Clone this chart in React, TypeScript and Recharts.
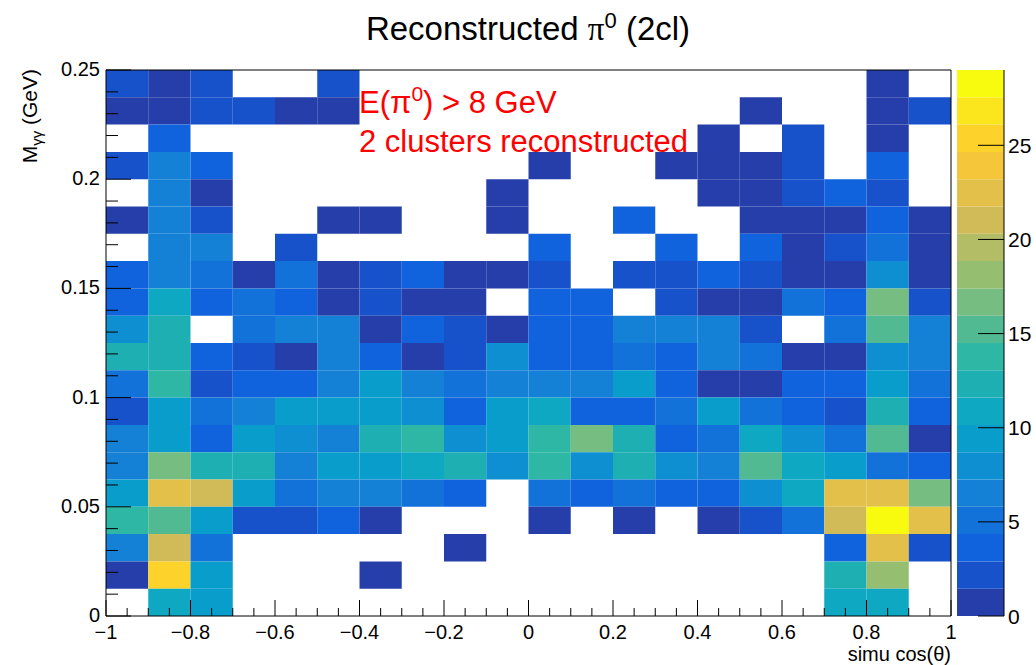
import React from "react";
import { ScatterChart, Scatter, XAxis, YAxis, ReferenceArea } from "recharts";

// lower edges of the bins
const xBinLow = [-1, -0.9, -0.8, -0.7, -0.6, -0.5, -0.4, -0.3, -0.2, -0.1, 0, 0.1, 0.2, 0.3, 0.4, 0.5, 0.6, 0.7, 0.8, 0.9];
// rows listed from the top of the plot down
const yBinLow = [0.2375, 0.225, 0.2125, 0.2, 0.1875, 0.175, 0.1625, 0.15, 0.1375, 0.125, 0.1125, 0.1, 0.0875, 0.075, 0.0625, 0.05, 0.0375, 0.025, 0.0125, 0];
const xBinWidth = 0.1;
const yBinWidth = 0.0125;

const counts = [
  [2, 1, 2, 0, 0, 2, 0, 0, 0, 0, 0, 0, 0, 0, 0, 0, 0, 0, 1, 0],
  [1, 1, 2, 2, 1, 1, 0, 0, 0, 0, 0, 0, 0, 0, 0, 1, 0, 0, 1, 2],
  [0, 4, 0, 0, 0, 0, 0, 0, 0, 0, 0, 0, 0, 0, 1, 0, 2, 0, 1, 0],
  [2, 6, 4, 0, 0, 0, 0, 0, 0, 0, 1, 0, 0, 1, 1, 1, 2, 0, 4, 0],
  [0, 6, 1, 0, 0, 0, 0, 0, 0, 1, 0, 0, 0, 0, 1, 1, 2, 4, 2, 0],
  [1, 6, 2, 0, 0, 1, 1, 0, 0, 1, 0, 0, 4, 0, 0, 1, 1, 1, 4, 1],
  [0, 6, 6, 0, 2, 0, 0, 0, 0, 0, 4, 0, 0, 4, 0, 4, 1, 2, 5, 1],
  [4, 6, 5, 1, 5, 1, 2, 4, 1, 1, 2, 0, 2, 2, 4, 2, 1, 1, 8, 1],
  [4, 11, 4, 5, 4, 1, 2, 1, 1, 0, 4, 4, 0, 2, 1, 1, 5, 4, 17, 2],
  [8, 12, 0, 5, 6, 6, 1, 4, 2, 1, 4, 4, 6, 6, 6, 2, 0, 5, 15, 6],
  [12, 12, 4, 2, 1, 6, 4, 1, 2, 8, 4, 4, 5, 4, 6, 5, 1, 1, 8, 6],
  [5, 14, 2, 4, 4, 6, 9, 6, 5, 6, 6, 6, 9, 4, 1, 1, 4, 4, 9, 5],
  [2, 9, 5, 6, 9, 9, 9, 8, 4, 9, 11, 4, 4, 5, 9, 5, 4, 2, 12, 4],
  [6, 9, 4, 9, 8, 6, 12, 14, 8, 9, 14, 17, 12, 4, 5, 11, 8, 5, 15, 1],
  [6, 17, 12, 12, 6, 9, 9, 11, 12, 8, 14, 8, 12, 8, 6, 15, 11, 9, 5, 4],
  [9, 22, 21, 9, 5, 6, 6, 5, 4, 0, 5, 4, 5, 4, 4, 8, 11, 22, 22, 17],
  [14, 15, 9, 2, 2, 4, 1, 0, 0, 0, 1, 0, 1, 0, 1, 2, 5, 21, 28, 22],
  [6, 21, 5, 0, 0, 0, 0, 0, 1, 0, 0, 0, 0, 0, 0, 0, 0, 4, 22, 2],
  [1, 26, 9, 0, 0, 0, 1, 0, 0, 0, 0, 0, 0, 0, 0, 0, 0, 12, 18, 0],
  [0, 11, 9, 0, 0, 0, 0, 0, 0, 0, 0, 0, 0, 0, 0, 0, 0, 11, 11, 0],
];

const xTicks = [
  -1, -0.95, -0.9, -0.85, -0.8, -0.75, -0.7, -0.65, -0.6, -0.55, -0.5, -0.45, -0.4, -0.35, -0.3, -0.25, -0.2, -0.15, -0.1, -0.05,
  0, 0.05, 0.1, 0.15, 0.2, 0.25, 0.3, 0.35, 0.4, 0.45, 0.5, 0.55, 0.6, 0.65, 0.7, 0.75, 0.8, 0.85, 0.9, 0.95, 1,
];
const yTicks = [
  0, 0.01, 0.02, 0.03, 0.04, 0.05, 0.06, 0.07, 0.08, 0.09, 0.1, 0.11, 0.12, 0.13, 0.14, 0.15, 0.16, 0.17, 0.18, 0.19, 0.2,
  0.21, 0.22, 0.23, 0.24, 0.25,
];
const zTicks = [0, 5, 10, 15, 20, 25];
const zMax = 29;
const nLevels = 20;

const FONT = "'Liberation Sans', Arial, Helvetica, sans-serif";

// ROOT kBird palette
const birdStops = [
  [53, 42, 135], [15, 92, 221], [20, 129, 214], [6, 164, 202], [46, 183, 164],
  [135, 191, 119], [209, 187, 89], [254, 200, 50], [249, 251, 14],
];

function bird(t: number) {
  const p = Math.max(0, Math.min(1, t)) * 8;
  const i = Math.min(7, Math.floor(p));
  const f = p - i;
  const a = birdStops[i];
  const b = birdStops[i + 1];
  const c = a.map((v, k) => Math.round(v + (b[k] - v) * f));
  return `rgb(${c[0]},${c[1]},${c[2]})`;
}

const bandColor = (k: number) => bird((k + 0.99) / nLevels);
const cellColor = (v: number) => bandColor(Math.min(nLevels - 1, Math.floor((v / zMax) * nLevels)));

const cells: { x1: number; x2: number; y1: number; y2: number; fill: string }[] = [];
counts.forEach((row, r) => {
  row.forEach((v, c) => {
    if (v <= 0) return;
    cells.push({
      x1: xBinLow[c],
      x2: xBinLow[c] + xBinWidth,
      y1: yBinLow[r],
      y2: yBinLow[r] + yBinWidth,
      fill: cellColor(v),
    });
  });
});

const bandStep = zMax / nLevels;
const bands = Array.from({ length: nLevels }, (_, k) => ({
  y1: k * bandStep,
  y2: (k + 1) * bandStep,
  fill: bandColor(k),
}));

const isMultiple = (v: number, step: number) => Math.abs(v / step - Math.round(v / step)) < 1e-6;

const XTick = (props: any) => {
  const { x, y, payload } = props;
  const v = payload.value;
  const major = isMultiple(v, 0.2);
  const label = String(Math.round(v * 10) / 10).replace("-", "\u2212");
  return (
    <g>
      <line x1={x} x2={x} y1={y} y2={y - (major ? 16 : 8)} stroke="#000" strokeWidth={1} />
      {major && (
        <text x={x} y={y + 23} textAnchor="middle" fontSize={20} fontFamily={FONT} fill="#000">
          {label}
        </text>
      )}
    </g>
  );
};

const YTick = (props: any) => {
  const { x, y, payload } = props;
  const v = payload.value;
  const major = isMultiple(v, 0.05);
  const label = String(Math.round(v * 100) / 100);
  return (
    <g>
      <line x1={x} x2={x + (major ? 25 : 12)} y1={y} y2={y} stroke="#000" strokeWidth={1} />
      {major && (
        <text x={x - 6} y={y} dy="0.3em" textAnchor="end" fontSize={20} fontFamily={FONT} fill="#000">
          {label}
        </text>
      )}
    </g>
  );
};

const ZTick = (props: any) => {
  const { x, y, payload } = props;
  return (
    <g>
      <line x1={x - 26} x2={x} y1={y} y2={y} stroke="#000" strokeWidth={1} />
      <text x={x + 4} y={y} dy="0.36em" textAnchor="start" fontSize={21} fontFamily={FONT} fill="#000">
        {payload.value}
      </text>
    </g>
  );
};

const NoShape = () => <g />;

export default function App() {
  return (
    <div style={{ position: "absolute", left: 0, top: 0, width: 1036, height: 665, background: "#fff" }}>
      <div style={{ position: "absolute", left: 0, top: 0 }}>
        <ScatterChart width={1036} height={665} margin={{ top: 70, right: 85, bottom: 48, left: 105 }}>
          {cells.map((c, i) => (
            <ReferenceArea
              key={i}
              x1={c.x1}
              x2={c.x2}
              y1={c.y1}
              y2={c.y2}
              fill={c.fill}
              fillOpacity={1}
              stroke="none"
              ifOverflow="visible"
            />
          ))}
          <ReferenceArea x1={-1} x2={1} y1={0} y2={0.25} fill="none" stroke="#000" strokeWidth={1} ifOverflow="visible" />
          <XAxis
            type="number"
            dataKey="x"
            domain={[-1, 1]}
            ticks={xTicks}
            interval={0}
            height={1}
            tickSize={0}
            tickMargin={0}
            axisLine={false}
            tickLine={false}
            tick={XTick}
            allowDataOverflow
          />
          <YAxis
            type="number"
            dataKey="y"
            domain={[0, 0.25]}
            ticks={yTicks}
            interval={0}
            width={1}
            tickSize={0}
            tickMargin={0}
            axisLine={false}
            tickLine={false}
            tick={YTick}
            allowDataOverflow
          />
          <Scatter data={[{ x: 0, y: 0 }]} shape={NoShape} isAnimationActive={false} />
        </ScatterChart>
      </div>
      <div style={{ position: "absolute", left: 0, top: 0 }}>
        <ScatterChart width={1036} height={665} margin={{ top: 70, right: 31, bottom: 48, left: 957 }}>
          {bands.map((b, i) => (
            <ReferenceArea
              key={i}
              x1={0}
              x2={1}
              y1={b.y1}
              y2={b.y2}
              fill={b.fill}
              fillOpacity={1}
              stroke="none"
              ifOverflow="visible"
            />
          ))}
          <XAxis
            type="number"
            dataKey="x"
            domain={[0, 1]}
            height={1}
            tick={false}
            axisLine={false}
            tickLine={false}
            allowDataOverflow
          />
          <YAxis
            type="number"
            dataKey="y"
            orientation="right"
            domain={[0, zMax]}
            ticks={zTicks}
            interval={0}
            width={1}
            tickSize={0}
            tickMargin={0}
            axisLine={{ stroke: "#000", strokeWidth: 1 }}
            tickLine={false}
            tick={ZTick}
            allowDataOverflow
          />
          <Scatter data={[{ x: 0, y: 0 }]} shape={NoShape} isAnimationActive={false} />
        </ScatterChart>
      </div>
      <svg width={1036} height={665} style={{ position: "absolute", left: 0, top: 0, pointerEvents: "none" }}>
        <text x={528} y={40} textAnchor="middle" fontSize={33} fontFamily={FONT} fill="#000">
          Reconstructed{" "}
          <tspan fontFamily="'Liberation Serif', 'Times New Roman', serif">π</tspan>
          <tspan fontSize={22} dy={-12}>0</tspan>
          <tspan dy={12}> (2cl)</tspan>
        </text>
        <text x={359} y={113} fontSize={31} fontFamily={FONT} fill="#ff0000">
          E(π<tspan fontSize={21} dy={-12}>0</tspan>
          <tspan dy={12}>) &gt; 8 GeV</tspan>
        </text>
        <text x={359} y={152} fontSize={31} fontFamily={FONT} fill="#ff0000">
          2 clusters reconstructed
        </text>
        <text x={951} y={661} textAnchor="end" fontSize={20} fontFamily={FONT} fill="#000">
          simu cos(θ)
        </text>
        <text
          x={37}
          y={69}
          textAnchor="end"
          fontSize={21}
          fontFamily={FONT}
          fill="#000"
          transform="rotate(-90 37 69)"
        >
          M<tspan fontSize={15} dy={5}>γγ</tspan>
          <tspan dy={-5}> (GeV)</tspan>
        </text>
      </svg>
    </div>
  );
}
